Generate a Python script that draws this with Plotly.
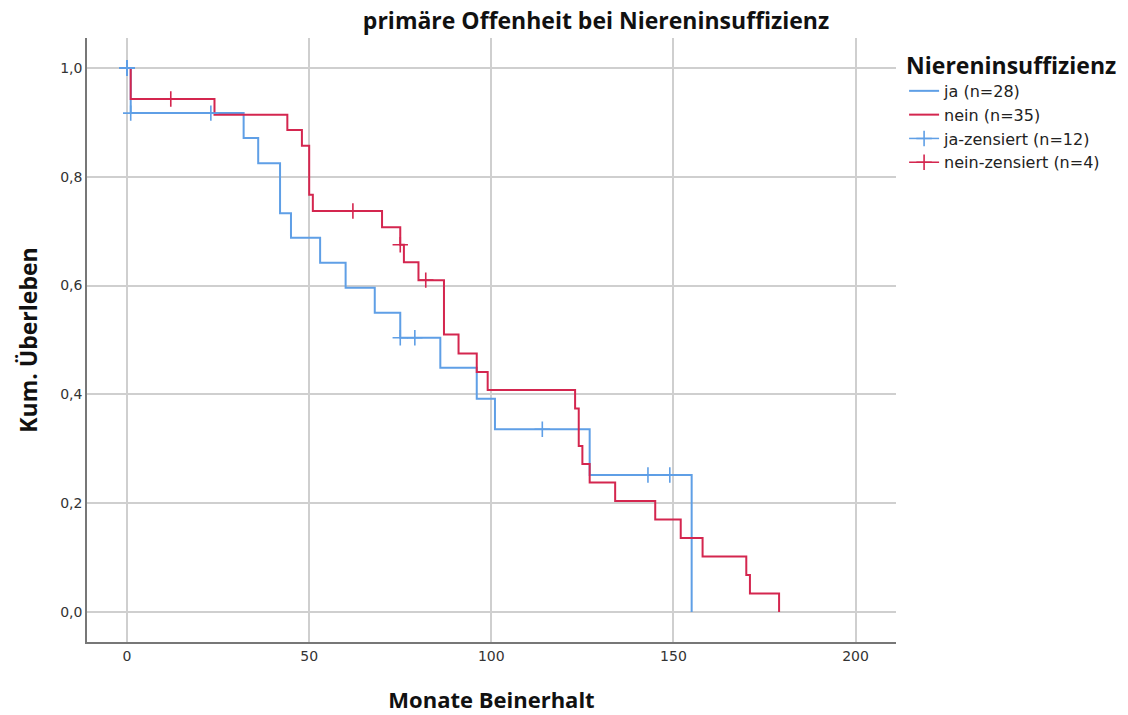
import plotly.graph_objects as go

# Kaplan-Meier estimates: event times (months) and survival after each step
ja_times = [0, 1, 32, 36, 42, 45, 53, 60, 68, 75, 86, 96, 101, 127, 155]
ja_surv = [1.0, 0.917, 0.871, 0.825, 0.733, 0.688, 0.642, 0.596, 0.550,
           0.504, 0.449, 0.392, 0.336, 0.252, 0.0]

nein_times = [0, 1, 24, 44, 48, 50, 51, 70, 75, 76, 80, 87, 91, 96, 99,
              123, 124, 125, 127, 134, 145, 152, 158, 170, 171, 179]
nein_surv = [1.0, 0.943, 0.914, 0.886, 0.857, 0.767, 0.737, 0.707, 0.675,
             0.643, 0.610, 0.510, 0.475, 0.441, 0.408, 0.374, 0.305, 0.272,
             0.238, 0.204, 0.170, 0.136, 0.102, 0.068, 0.034, 0.0]

# censored observations (months)
ja_censored = [0, 0, 0, 0, 0, 1, 23, 75, 79, 114, 143, 149]
nein_censored = [12, 62, 75, 82]

x_ticks = [0, 50, 100, 150, 200]
y_ticks = [0.0, 0.2, 0.4, 0.6, 0.8, 1.0]

BLUE = "#5f9fe6"
RED = "#d4264f"
FONT = "DejaVu Sans"
TITLE_FONT = "Open Sans"


def step_value(times, surv, t):
    """Survival estimate at time t (right-continuous step function)."""
    val = surv[0]
    for ti, si in zip(times, surv):
        if ti <= t:
            val = si
    return val


def censor_points(cens, times, surv):
    xs, ys = [], []
    for t in cens:
        xs += [t, None]
        ys += [step_value(times, surv, t), None]
    return xs, ys


fig = go.Figure()

fig.add_trace(go.Scatter(x=ja_times, y=ja_surv, mode="lines", line_shape="hv",
                         line=dict(color=BLUE, width=2), name="ja (n=28)"))
fig.add_trace(go.Scatter(x=nein_times, y=nein_surv, mode="lines", line_shape="hv",
                         line=dict(color=RED, width=2), name="nein (n=35)"))

cx, cy = censor_points(ja_censored, ja_times, ja_surv)
fig.add_trace(go.Scatter(x=cx, y=cy, mode="lines+markers", connectgaps=False,
                         line=dict(color=BLUE, width=1.5),
                         marker=dict(symbol="cross-thin", size=11,
                                     line=dict(color=BLUE, width=1.6)),
                         name="ja-zensiert (n=12)"))
cx, cy = censor_points(nein_censored, nein_times, nein_surv)
fig.add_trace(go.Scatter(x=cx, y=cy, mode="lines+markers", connectgaps=False,
                         line=dict(color=RED, width=1.5),
                         marker=dict(symbol="cross-thin", size=11,
                                     line=dict(color=RED, width=1.6)),
                         name="nein-zensiert (n=4)"))

fig.update_layout(
    width=1128, height=715,
    margin=dict(l=87, r=232, t=38, b=73, autoexpand=False),
    paper_bgcolor="white", plot_bgcolor="white",
    separators=",.",
    font=dict(family=FONT, color="#222222"),
    title=dict(text="<b>primäre Offenheit bei Niereninsuffizienz</b>",
               x=596 / 1128, xanchor="center", xref="container",
               y=1 - 21 / 715, yanchor="middle", yref="container",
               font=dict(size=23, family=TITLE_FONT, color="#111111")),
    legend=dict(x=1.01, xanchor="left", y=0.99, yanchor="top",
                title=dict(text="<b>Niereninsuffizienz</b>",
                           font=dict(size=23, family=TITLE_FONT, color="#111111")),
                font=dict(size=16, family=FONT, color="#222222"),
                bgcolor="rgba(0,0,0,0)", tracegroupgap=0),
)

fig.update_xaxes(range=[-11, 211.1], tickvals=x_ticks, automargin=False,
                 showgrid=True, gridcolor="#cfcfcf", gridwidth=2,
                 showline=True, linecolor="#777777", linewidth=1.5,
                 zeroline=False, ticks="",
                 tickfont=dict(size=14, family=FONT, color="#333333"),
                 title=dict(text="<b>Monate Beinerhalt</b>", standoff=30,
                            font=dict(size=22, family=TITLE_FONT, color="#111111")))
fig.update_yaxes(range=[-0.055, 1.055], tickvals=y_ticks, tickformat=".1f",
                 automargin=False,
                 showgrid=True, gridcolor="#cfcfcf", gridwidth=2,
                 showline=True, linecolor="#777777", linewidth=1.5,
                 zeroline=False, ticks="",
                 tickfont=dict(size=14, family=FONT, color="#333333"),
                 title=dict(text="<b>Kum. Überleben</b>", standoff=16,
                            font=dict(size=23, family=TITLE_FONT, color="#111111")))

fig.write_html("out.html")
